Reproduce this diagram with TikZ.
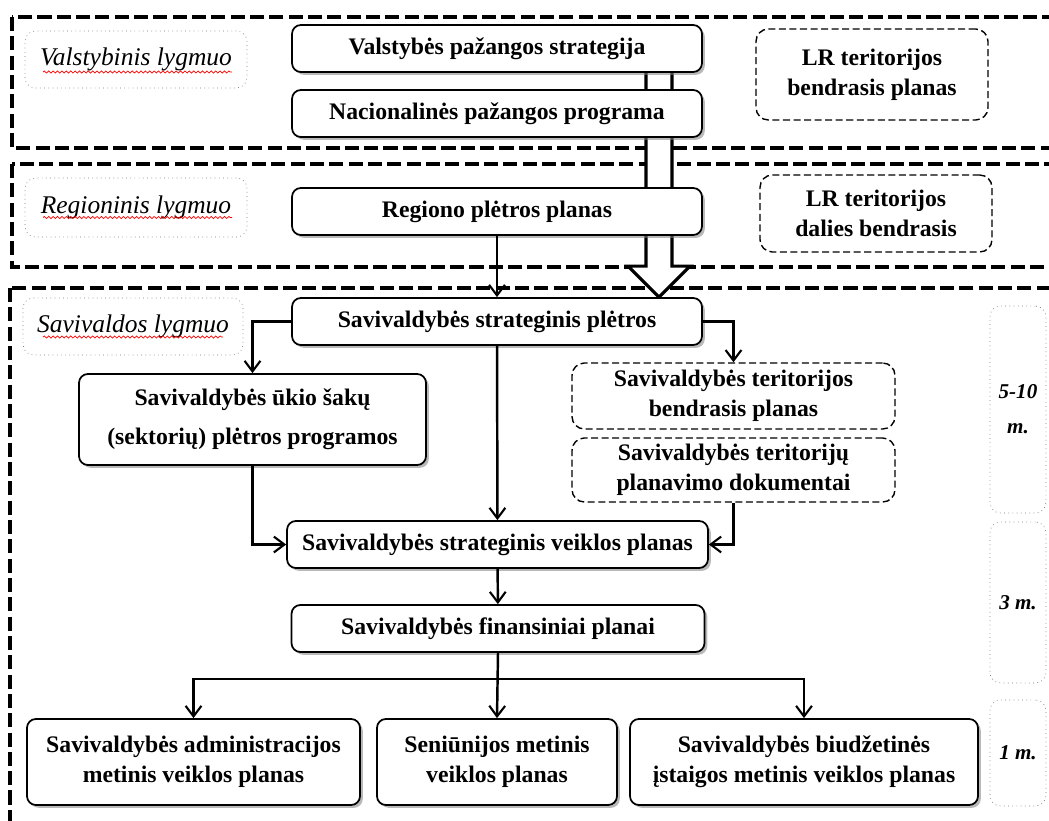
\documentclass[tikz,border=0pt]{standalone}
\usepackage{fontspec}
\setmainfont{Liberation Serif}
\usetikzlibrary{arrows.meta,shadows,backgrounds,decorations.pathmorphing}

\begin{document}
\begin{tikzpicture}[x=0.02cm, y=-0.02cm,
  font=\fontsize{13.5}{17}\selectfont\bfseries,
  doc/.style={draw, line width=1pt, rounded corners=5pt, fill=white, align=center,
    drop shadow={shadow xshift=1.6pt, shadow yshift=-1.6pt, opacity=0.55},
    minimum width=8.2cm, minimum height=0.94cm},
  plan/.style={draw, line width=0.8pt, dash pattern=on 4pt off 2pt, rounded corners=7pt,
    fill=white, align=center},
  level/.style={draw=black!55, dotted, rounded corners=6pt, minimum width=4.44cm,
    minimum height=1.14cm, font=\fontsize{14.5}{17}\selectfont\itshape},
  term/.style={draw=black!55, dotted, rounded corners=6pt, minimum width=1.12cm, align=center,
    font=\fontsize{12}{20}\selectfont\bfseries\itshape},
  zone/.style={line width=2.2pt, dash pattern=on 8pt off 3pt},
  flow/.style={line width=1.4pt, -{Straight Barb[length=6pt, width=9pt, line width=1.2pt]}},
  squiggle/.style={red, line width=0.4pt, decorate,
    decoration={snake, amplitude=0.6pt, segment length=2.5pt}}
]
\clip (0,0) rectangle (1049,821);

% state level
\node[level] (vl) at (136,59.5) {Valstybinis lygmuo};
\node[doc] (vps) at (497,48.5) {Valstybės pažangos strategija};
\node[doc] (npp) at (497,113.5) {Nacionalinės pažangos programa};
\node[plan, minimum width=4.64cm, minimum height=1.82cm] (lrb) at (872,74.5) {LR teritorijos\\bendrasis planas};

% regional level
\node[level, minimum height=1.18cm] (rl) at (136,207.5) {Regioninis lygmuo};
\node[doc] (rpp) at (497,211.5) {Regiono plėtros planas};
\node[plan, minimum width=4.64cm, minimum height=1.54cm] (lrd) at (876,213.5) {LR teritorijos\\dalies bendrasis};

% municipal level
\node[level, minimum width=4.4cm] (sl) at (133,326.5) {Savivaldos lygmuo};
\node[doc] (ssp) at (497,321.5) {Savivaldybės strateginis plėtros};
\node[doc, minimum width=6.94cm, minimum height=1.82cm, font=\fontsize{13.5}{22}\selectfont\bfseries] (uki) at (252.5,419.5) {Savivaldybės ūkio šakų\\(sektorių) plėtros programos};
\node[plan, minimum width=6.46cm, minimum height=1.32cm] (stb) at (733.5,396) {Savivaldybės teritorijos\\bendrasis planas};
\node[plan, minimum width=6.46cm, minimum height=1.28cm] (stp) at (733.5,470) {Savivaldybės teritorijų\\planavimo dokumentai};
\node[doc, minimum width=8.42cm] (svp) at (497.5,544.5) {Savivaldybės strateginis veiklos planas};
\node[doc, minimum width=8.26cm] (sfp) at (498,628.5) {Savivaldybės finansiniai planai};
\node[doc, minimum width=6.66cm, minimum height=1.72cm] (adm) at (193.5,762) {Savivaldybės administracijos\\metinis veiklos planas};
\node[doc, minimum width=4.8cm, minimum height=1.72cm] (sen) at (497,762) {Seniūnijos metinis\\veiklos planas};
\node[doc, minimum width=6.96cm, minimum height=1.72cm] (biu) at (804,762) {Savivaldybės biudžetinės\\įstaigos metinis veiklos planas};

% periods
\node[term, minimum height=4.14cm] (t1) at (1018,409.5) {5-10\\m.};
\node[term, minimum height=3.22cm] (t2) at (1018,602.5) {3 m.};
\node[term, minimum height=2.12cm] (t3) at (1018,753) {1 m.};

% spell-check underlines
\draw[squiggle] ([shift={(-93,12.5)}]vl.center) -- ++(189,0);
\draw[squiggle] ([shift={(-93,10)}]rl.center) -- ++(189,0);
\draw[squiggle] ([shift={(-90,10.5)}]sl.center) -- ++(180,0);

% level frames and the hollow arrow go under the boxes
\begin{scope}[on background layer]
  \draw[zone] (12,17) rectangle (1070,148);
  \draw[zone] (12,164) rectangle (1070,267);
  \draw[zone] (10,288) rectangle (1070,850);
  \coordinate (hx) at (659,0);
  \coordinate (hTop) at (vps.south -| hx);
  \coordinate (hTip) at (ssp.north -| hx);
  \draw[line width=1.8pt, fill=white, line join=miter]
    ([shift={(-13,0)}]hTop) -- ([shift={(-13,-31)}]hTip) -- ([shift={(-31,-31)}]hTip)
    -- (hTip) -- ([shift={(31,-31)}]hTip) -- ([shift={(13,-31)}]hTip) -- ([shift={(13,0)}]hTop);
\end{scope}

% connectors
\draw[flow] (rpp) -- (ssp);
\draw[flow] (ssp.west) -| (uki.north);
\draw[flow] (ssp.east) -| (stb.north);
\draw[flow] (ssp) -- (svp);
\draw[flow] (uki.south) |- (svp.west);
\draw[flow] (stp.south) |- (svp.east);
\draw[flow] (svp) -- (sfp);
\coordinate (split) at ([shift={(0,26)}]sfp.south);
\draw[flow] (sfp.south) -- (sen.north);
\draw[flow] (split) -| (adm.north);
\draw[flow] (split) -| (biu.north);
\end{tikzpicture}
\end{document}
